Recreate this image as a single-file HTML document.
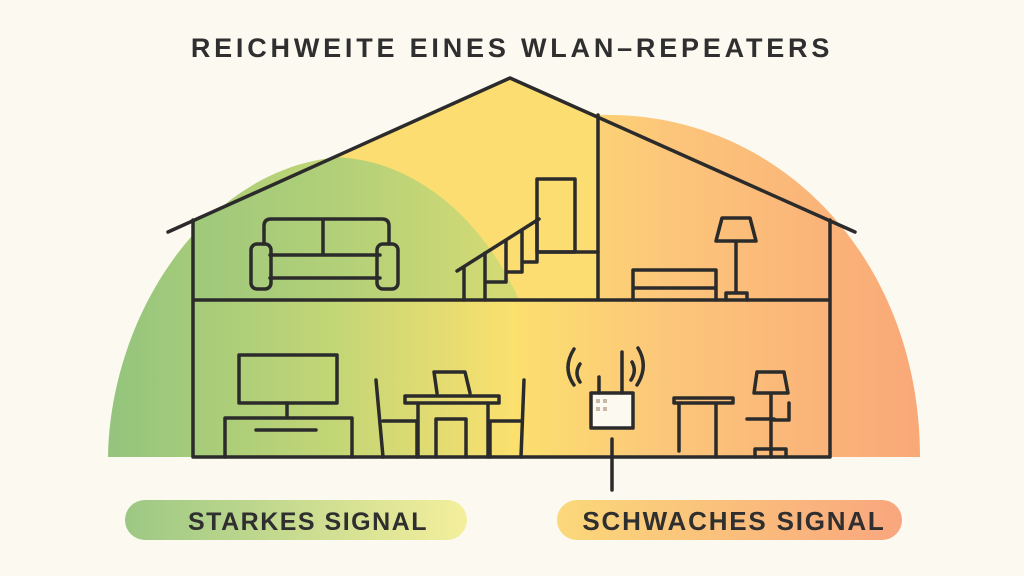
<!DOCTYPE html>
<html><head><meta charset="utf-8"><style>
html,body{margin:0;background:#fcf9f1;width:1024px;height:576px;overflow:hidden;}
svg{display:block}
text{font-family:"Liberation Sans",sans-serif;font-weight:bold;fill:#2f2f2f}
</style></head><body>
<svg width="1024" height="576" viewBox="0 0 1024 576" xmlns="http://www.w3.org/2000/svg">
<defs>
<linearGradient id="bg" x1="108" y1="0" x2="920" y2="0" gradientUnits="userSpaceOnUse">
<stop offset="0" stop-color="#93c47d"/>
<stop offset="0.28" stop-color="#c3d676"/>
<stop offset="0.5" stop-color="#fbe06e"/>
<stop offset="0.68" stop-color="#fcc77a"/>
<stop offset="1" stop-color="#f9a878"/>
</linearGradient>
<linearGradient id="gr" x1="108" y1="0" x2="500" y2="0" gradientUnits="userSpaceOnUse">
<stop offset="0" stop-color="#93c47d"/>
<stop offset="0.6" stop-color="#b3d078"/>
<stop offset="1" stop-color="#d3da74"/>
</linearGradient>
<linearGradient id="pl" x1="0" y1="0" x2="1" y2="0">
<stop offset="0" stop-color="#9cc884"/><stop offset="1" stop-color="#f4ef9c"/>
</linearGradient>
<linearGradient id="pr" x1="0" y1="0" x2="1" y2="0">
<stop offset="0" stop-color="#fbd87a"/><stop offset="1" stop-color="#f9a67e"/>
</linearGradient>
<clipPath id="up"><path d="M168,232 L510,78 L598,115 L598,300 L193,300 L193,220 Z"/></clipPath>
</defs>
<rect width="1024" height="576" fill="#fcf9f1"/>
<path d="M108,457 C110,320 200,175 330,158 L510,78 L598,115 C780,110 920,260 920,457 Z" fill="url(#bg)"/>
<g clip-path="url(#up)">
<rect x="168" y="70" width="430" height="230" fill="#fbdd72"/>
<ellipse cx="330" cy="457" rx="222" ry="300" fill="url(#gr)"/>
</g>
<text x="512" y="57" text-anchor="middle" font-size="27" letter-spacing="3.8">REICHWEITE EINES WLAN–REPEATERS</text>
<g fill="none" stroke="#2b2b2b" stroke-width="3.5" stroke-linecap="round" stroke-linejoin="round">
<path d="M168,232 L510,78 L855,232"/>
<path d="M193,220 L193,457 M830,220 L830,457 M193,300 L830,300 M598,115 L598,300 M193,457 L830,457"/>
<path d="M264,244 L264,226 Q264,219 271,219 L382,219 Q389,219 389,226 L389,244 M323,219 L323,255 M270,255 L380,255 M270,278 L380,278"/>
<rect x="251" y="244" width="20" height="45" rx="6"/>
<rect x="377" y="244" width="21" height="45" rx="6"/>
<rect x="537" y="179" width="38" height="73"/>
<path d="M537,252 L598,252 M457,271 L539,219 M464,300 L464,267 M485,300 L485,253 M506,281 L506,240 M522,270 L522,230 M537,252 L537,219 M485,282 L506,282 L506,272 L522,272 L522,262 L537,262 L537,252"/>
<path d="M633,300 L633,270 L716,270 L716,300 M633,288 L716,288"/>
<path d="M722,218 L750,218 L756,241 L716,241 Z M736,241 L736,293 M726,300 L726,293 L747,293 L747,300"/>
<rect x="239" y="355" width="98" height="48"/>
<path d="M287,403 L287,418 M225,457 L225,418 L352,418 L352,457 M256,430 L316,430"/>
<path d="M437,393 L434,372 L465,372 L470,393 M405,396 L499,396 L499,403 L405,403 Z M418,403 L418,457 M488,403 L488,457 M436,457 L436,419 L466,419 L466,457"/>
<path d="M376,380 L383,457 M383,421 L417,421 L417,457 M524,380 L521,457 M490,421 L521,421 M490,421 L490,457"/>
<rect x="591" y="393" width="42" height="35" fill="#fcf9f1"/>
<path d="M599,393 L599,377 M622,393 L622,352 M612,439 L612,490"/>
<path d="M580,364 Q574,373 580,382 M574,349 Q562,368 574,385 M632,362 Q637,371 631,380 M638,348 Q649,366 637,385"/>
<path d="M674,398 L733,398 L733,403 L674,403 Z M679,403 L679,451 M716,403 L716,457"/>
<path d="M757,372 L784,372 L788,393 L754,393 Z M771,393 L771,457 M747,419 L774,419 M789,403 L789,420 L774,420 M755,457 L755,449 L786,449 L786,457"/>
</g>
<g fill="#c9b8a5"><rect x="596" y="399" width="4" height="4"/><rect x="603" y="399" width="4" height="4"/><rect x="596" y="407" width="4" height="4"/><rect x="603" y="407" width="4" height="4"/></g>
<rect x="125" y="500" width="342" height="40" rx="20" fill="url(#pl)"/>
<rect x="557" y="500" width="345" height="40" rx="20" fill="url(#pr)"/>
<text x="308" y="530" text-anchor="middle" font-size="25" letter-spacing="1.5">STARKES SIGNAL</text>
<text x="734" y="530" text-anchor="middle" font-size="26" letter-spacing="1.8">SCHWACHES SIGNAL</text>
</svg>
</body></html>
